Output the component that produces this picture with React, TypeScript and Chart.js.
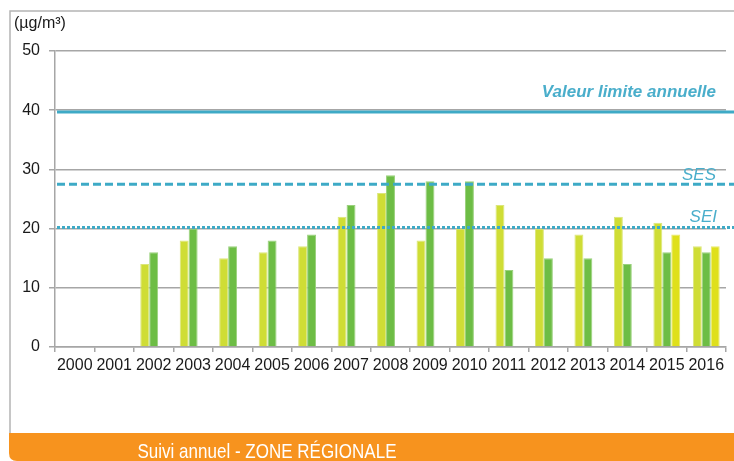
import React, { useEffect, useRef } from "react";
import { Chart, registerables } from "chart.js";

Chart.register(...registerables);

const categories = ["2000", "2001", "2002", "2003", "2004", "2005", "2006", "2007", "2008", "2009", "2010", "2011", "2012", "2013", "2014", "2015", "2016"];
const seriesA = [null, null, 14, 18, 15, 16, 17, 22, 26, 18, 20, 24, 20, 19, 22, 21, 17];
const seriesB = [null, null, 16, 20, 17, 18, 19, 24, 29, 28, 28, 13, 15, 15, 14, 16, 16];
const seriesC = [null, null, null, null, null, null, null, null, null, null, null, null, null, null, null, 19, 17];
const yTicks = [0, 10, 20, 30, 40, 50];
const limitValue = 39.7;
const sesValue = 27.5;
const seiValue = 20.2;
const unitLabel = "(µg/m³)";
const limitLabel = "Valeur limite annuelle";
const sesLabel = "SES";
const seiLabel = "SEI";
const bannerText = "Suivi annuel - ZONE RÉGIONALE";

const FONT = "'Liberation Sans', Arial, sans-serif";
const LINE_COLOR = "#3eaac6";
const LABEL_COLOR = "#4aaecb";

const decorPlugin = {
  id: "decor",
  beforeDraw(chart: any) {
    const ctx = chart.ctx;
    ctx.save();
    // frame
    ctx.strokeStyle = "#b4b4b4";
    ctx.lineWidth = 1.5;
    ctx.beginPath();
    ctx.moveTo(10, 434);
    ctx.lineTo(10, 11);
    ctx.lineTo(734, 11);
    ctx.stroke();
    // banner
    ctx.fillStyle = "#f7931e";
    const x0 = 9, y0 = 433, x1 = 734, y1 = 461, r = 8;
    ctx.beginPath();
    ctx.moveTo(x0, y0);
    ctx.lineTo(x1, y0);
    ctx.lineTo(x1, y1);
    ctx.lineTo(x0 + r, y1);
    ctx.quadraticCurveTo(x0, y1, x0, y1 - r);
    ctx.closePath();
    ctx.fill();
    ctx.fillStyle = "#ffffff";
    ctx.font = "21px " + FONT;
    ctx.textAlign = "center";
    ctx.textBaseline = "alphabetic";
    ctx.fillText(bannerText, 267, 458, 259);
    // unit
    ctx.fillStyle = "#1a1a1a";
    ctx.font = "16px " + FONT;
    ctx.textAlign = "left";
    ctx.fillText(unitLabel, 14, 28);
    ctx.restore();
  },
  afterDatasetsDraw(chart: any) {
    const ctx = chart.ctx;
    const y = chart.scales.y;
    const left = chart.chartArea.left + 2;
    const right = 734;
    ctx.save();
    ctx.strokeStyle = LINE_COLOR;
    // limit
    const yl = y.getPixelForValue(limitValue);
    ctx.lineWidth = 3;
    ctx.setLineDash([]);
    ctx.beginPath();
    ctx.moveTo(left, yl);
    ctx.lineTo(right, yl);
    ctx.stroke();
    // SES
    const ys = y.getPixelForValue(sesValue);
    ctx.lineWidth = 3;
    ctx.setLineDash([8, 4]);
    ctx.beginPath();
    ctx.moveTo(left, ys);
    ctx.lineTo(right, ys);
    ctx.stroke();
    // SEI
    const yi = y.getPixelForValue(seiValue);
    ctx.lineWidth = 3;
    ctx.setLineDash([3, 2]);
    ctx.beginPath();
    ctx.moveTo(left, yi);
    ctx.lineTo(right, yi);
    ctx.stroke();
    ctx.setLineDash([]);
    // labels
    ctx.fillStyle = LABEL_COLOR;
    ctx.textAlign = "right";
    ctx.textBaseline = "alphabetic";
    ctx.font = "italic bold 17px " + FONT;
    ctx.fillText(limitLabel, 716, yl - 15);
    ctx.font = "italic 17px " + FONT;
    ctx.fillText(sesLabel, 716, ys - 4);
    ctx.fillText(seiLabel, 717, yi - 5);
    ctx.restore();
  },
};

export default function App() {
  const ref = useRef<HTMLCanvasElement | null>(null);
  useEffect(() => {
    if (!ref.current) return;
    const chart = new Chart(ref.current, {
      type: "bar",
      data: {
        labels: categories,
        datasets: [
          { label: "A", data: seriesA, backgroundColor: "#cfdd35", borderColor: "#dbe67a", borderWidth: 1 },
          { label: "B", data: seriesB, backgroundColor: "#6dbd45", borderColor: "#9ad17d", borderWidth: 1 },
          { label: "C", data: seriesC, backgroundColor: "#dfe01b", borderColor: "#e9ea6a", borderWidth: 1 },
        ],
      },
      options: {
        animation: false,
        responsive: false,
        layout: { padding: { top: 51, right: 8, bottom: 0, left: 0 } },
        datasets: { bar: { categoryPercentage: 0.68, barPercentage: 1 } },
        plugins: { legend: { display: false }, tooltip: { enabled: false } },
        scales: {
          x: {
            afterFit: (s: any) => { s.height = 114; },
            grid: { display: true, drawOnChartArea: false, drawTicks: true, tickLength: 5, color: "#a6a6a6", lineWidth: 1.5, offset: true },
            border: { display: true, color: "#a6a6a6", width: 1.5 },
            ticks: { color: "#1a1a1a", font: { family: FONT, size: 16 }, padding: 4, autoSkip: false, maxRotation: 0 },
          },
          y: {
            min: 0,
            max: 50,
            afterFit: (s: any) => { s.width = 55; },
            afterBuildTicks: (s: any) => { s.ticks = yTicks.map((v) => ({ value: v })); },
            grid: { color: "#a6a6a6", lineWidth: 1.5, tickLength: 6 },
            border: { display: true, color: "#a6a6a6", width: 1.5 },
            ticks: { color: "#1a1a1a", font: { family: FONT, size: 16 }, padding: 9 },
          },
        },
      },
      plugins: [decorPlugin],
    });
    return () => chart.destroy();
  }, []);
  return (
    <div style={{ position: "absolute", left: 0, top: 0, width: 734, height: 461 }}>
      <canvas ref={ref} width={734} height={461} />
    </div>
  );
}
